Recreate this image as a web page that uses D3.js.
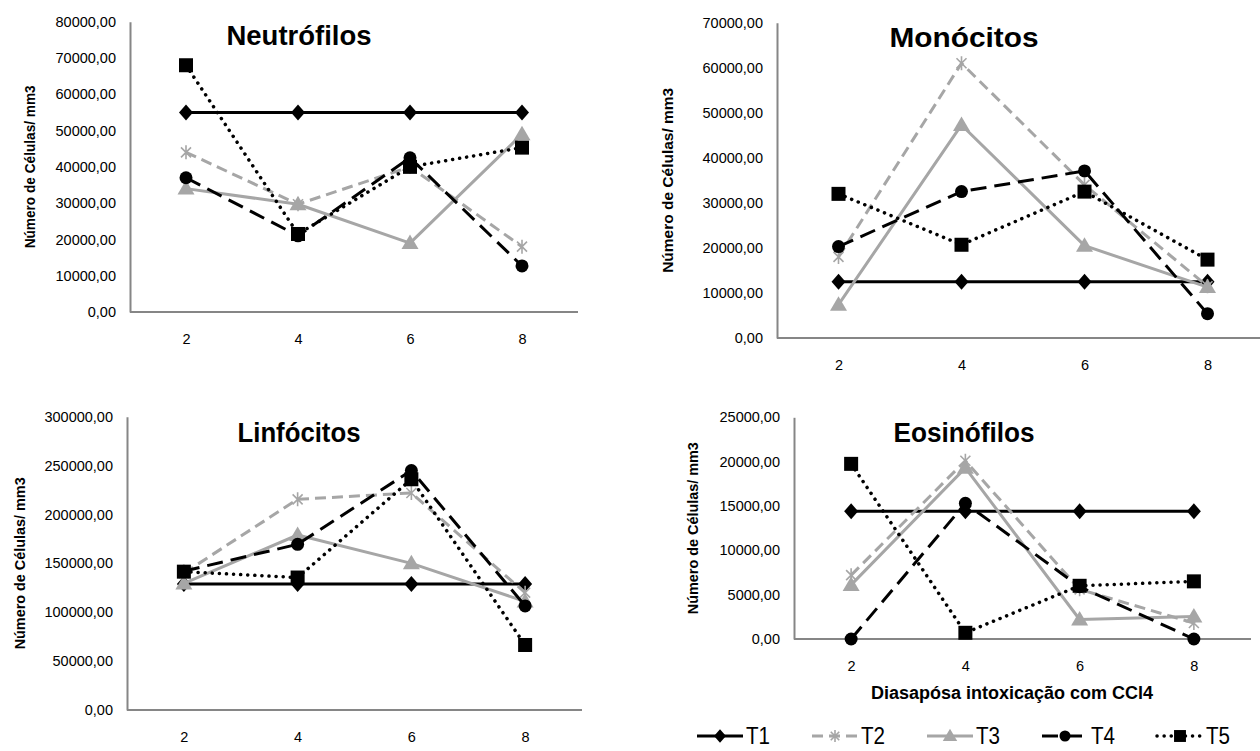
<!DOCTYPE html>
<html>
<head>
<meta charset="utf-8">
<script src="https://cdn.jsdelivr.net/npm/d3@7"></script>
<style>
  html, body { margin: 0; padding: 0; background: #fff; }
  svg { display: block; font-family: "Liberation Sans", Arial, sans-serif; }
</style>
</head>
<body>
<svg id="chart" width="1260" height="751"></svg>
<script>
// ---------------- DATA ----------------
const days = ["2", "4", "6", "8"];
const seriesNames = ["T1", "T2", "T3", "T4", "T5"];

// each panel: one array per series T1..T5, values at days 2,4,6,8
const neutrofilos = [
  [55000, 55000, 55000, 55000],
  [44000, 29700, 40000, 18000],
  [34000, 29700, 19000, 49000],
  [37000, 21000, 42500, 12700],
  [68000, 21500, 40000, 45300]
];
const monocitos = [
  [12500, 12500, 12500, 12500],
  [18000, 61000, 34000, 11500],
  [7400, 47300, 20500, 11300],
  [20300, 32500, 37100, 5400],
  [32000, 20700, 32500, 17400]
];
const linfocitos = [
  [129000, 129000, 129000, 129000],
  [140000, 215500, 222000, 120000],
  [129500, 179000, 150000, 111000],
  [142000, 169500, 245000, 106500],
  [141500, 135500, 236000, 66500]
];
const eosinofilos = [
  [14400, 14400, 14400, 14400],
  [7200, 20100, 5600, 1800],
  [6100, 19300, 2200, 2550],
  [0, 15300, 5900, 0],
  [19750, 700, 6000, 6500]
];

const titles = ["Neutrófilos", "Monócitos", "Linfócitos", "Eosinófilos"];
const yMax = [80000, 70000, 300000, 25000];
const yStep = [10000, 10000, 50000, 5000];
const yAxisTitle = "Número de Células/ mm3";
const xAxisTitle = "Diasapósa intoxicação com CCl4";

// ---------------- LAYOUT ----------------
const panels = [
  { data: neutrofilos, x0: 130, x1: 578, top: 21.7, base: 312,
    tx: 299, ty: 35, tw: 145, ytx: 30, ytl: 163 },
  { data: monocitos, x0: 777, x1: 1269, top: 22.7, base: 338,
    tx: 964, ty: 37, tw: 149, ytx: 668, ytl: 185 },
  { data: linfocitos, x0: 127, x1: 582, top: 416.7, base: 710,
    tx: 299, ty: 432, tw: 123, ytx: 20, ytl: 172 },
  { data: eosinofilos, x0: 794, x1: 1251, top: 417.3, base: 639,
    tx: 964, ty: 432, tw: 141, ytx: 693, ytl: 172 }
];

const GRAY = "#a6a6a6";
const AXIS = "#868686";
const styles = [
  { color: "#000", dash: null, cap: "butt", width: 3, marker: "diamond" },
  { color: GRAY, dash: "11,6", cap: "butt", width: 3, marker: "star" },
  { color: GRAY, dash: null, cap: "butt", width: 3, marker: "triangle" },
  { color: "#000", dash: "16,8", cap: "butt", width: 3, marker: "circle" },
  { color: "#000", dash: "0.1,7", cap: "round", width: 3.5, marker: "square" }
];

const fmt = v => v.toFixed(2).replace(".", ",");
const svg = d3.select("#chart");
svg.append("rect").attr("width", 1260).attr("height", 751).attr("fill", "#fff");

function drawMarker(g, type, x, y, s) {
  const m = g.append("g").attr("transform", `translate(${x},${y})`);
  if (type === "diamond") {
    m.append("path").attr("d", `M0,${-8*s}L${7*s},0L0,${8*s}L${-7*s},0Z`).attr("fill", "#000");
  } else if (type === "star") {
    m.append("path")
      .attr("d", `M${-5*s},${-5*s}L${5*s},${5*s}M${-5*s},${5*s}L${5*s},${-5*s}M0,${-7*s}L0,${7*s}`)
      .attr("stroke", GRAY).attr("stroke-width", 1.6).attr("fill", "none");
  } else if (type === "triangle") {
    m.append("path").attr("d", `M0,${-8.5*s}L${8.5*s},${6*s}L${-8.5*s},${6*s}Z`).attr("fill", GRAY);
  } else if (type === "circle") {
    m.append("circle").attr("r", 6.5 * s).attr("fill", "#000");
  } else if (type === "square") {
    m.append("rect").attr("x", -7*s).attr("y", -7*s).attr("width", 14*s).attr("height", 14*s).attr("fill", "#000");
  }
}

panels.forEach((p, pi) => {
  const g = svg.append("g");
  const x = d3.scalePoint().domain(days).range([p.x0, p.x1]).padding(0.5);
  const y = d3.scaleLinear().domain([0, yMax[pi]]).range([p.base, p.top]);

  // Y axis
  const yAx = g.append("g").attr("transform", `translate(${p.x0},0)`)
    .call(d3.axisLeft(y).tickValues(d3.range(0, yMax[pi] + 1, yStep[pi]))
      .tickFormat(fmt).tickSize(0).tickPadding(14));
  yAx.select(".domain").attr("stroke", AXIS).attr("stroke-width", 2);
  yAx.selectAll("text").attr("font-size", 14.5).attr("fill", "#000")
    .attr("font-family", "Liberation Sans, Arial, sans-serif");

  // X axis
  const xAx = g.append("g").attr("transform", `translate(0,${p.base})`)
    .call(d3.axisBottom(x).tickSize(0).tickPadding(22).tickSizeOuter(0));
  xAx.select(".domain").attr("stroke", AXIS).attr("stroke-width", 2)
    .attr("d", `M${p.x0},0H${p.x1}`);
  xAx.selectAll("text").attr("font-size", 14.5).attr("fill", "#000")
    .attr("font-family", "Liberation Sans, Arial, sans-serif");

  // Series
  const line = d3.line().x((d, i) => x(days[i])).y(d => y(d));
  p.data.forEach((vals, si) => {
    const st = styles[si];
    g.append("path").datum(vals).attr("d", line)
      .attr("fill", "none").attr("stroke", st.color).attr("stroke-width", st.width)
      .attr("stroke-dasharray", st.dash).attr("stroke-linecap", st.cap)
      .attr("stroke-linejoin", "round");
    vals.forEach((v, i) => drawMarker(g, st.marker, x(days[i]), y(v), 1));
  });

  // Title
  g.append("text").attr("x", p.tx).attr("y", p.ty).attr("dy", "0.36em")
    .attr("text-anchor", "middle").attr("font-weight", "bold").attr("font-size", 27)
    .attr("textLength", p.tw).attr("lengthAdjust", "spacingAndGlyphs")
    .text(titles[pi]);

  // Y axis title
  const cy = (p.top + p.base) / 2;
  g.append("text").attr("transform", `translate(${p.ytx},${cy}) rotate(-90)`)
    .attr("dy", "0.36em").attr("text-anchor", "middle")
    .attr("font-weight", "bold").attr("font-size", 15)
    .attr("textLength", p.ytl).attr("lengthAdjust", "spacingAndGlyphs")
    .text(yAxisTitle);
});

// X axis title (bottom right panel)
svg.append("text").attr("x", 1012).attr("y", 693).attr("dy", "0.36em")
  .attr("text-anchor", "middle").attr("font-weight", "bold").attr("font-size", 18)
  .attr("textLength", 282).attr("lengthAdjust", "spacingAndGlyphs")
  .text(xAxisTitle);

// Legend
const legX = d3.scalePoint().domain(seriesNames).range([697, 1157]);
const legY = 736;
seriesNames.forEach((name, si) => {
  const st = styles[si];
  const lx = legX(name);
  const lg = svg.append("g");
  lg.append("line").attr("x1", lx).attr("x2", lx + 46).attr("y1", legY).attr("y2", legY)
    .attr("stroke", st.color).attr("stroke-width", st.width)
    .attr("stroke-dasharray", st.dash).attr("stroke-linecap", st.cap);
  drawMarker(lg, st.marker, lx + 23, legY, 0.85);
  lg.append("text").attr("x", lx + 49).attr("y", legY).attr("dy", "0.36em")
    .attr("font-size", 23).attr("fill", "#000")
    .attr("textLength", 24).attr("lengthAdjust", "spacingAndGlyphs").text(name);
});
</script>
</body>
</html>
